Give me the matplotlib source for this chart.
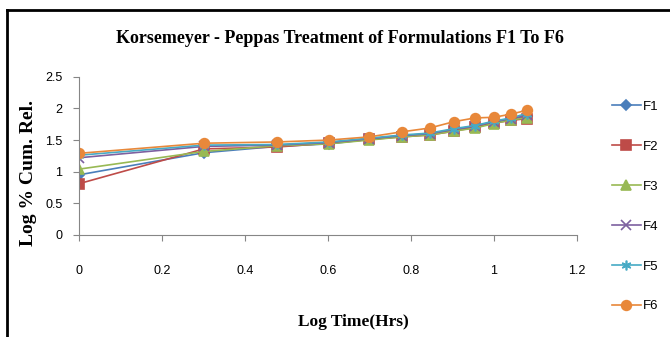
import numpy as np
import matplotlib.pyplot as plt
from matplotlib.lines import Line2D

# log time (hrs) and log % cumulative release
log_time = [0, 0.301, 0.477, 0.602, 0.699, 0.778, 0.845, 0.903, 0.954, 1.0, 1.041, 1.079]
F1 = [0.95, 1.30, 1.40, 1.44, 1.51, 1.56, 1.59, 1.66, 1.71, 1.78, 1.83, 1.88]
F2 = [0.81, 1.36, 1.39, 1.45, 1.51, 1.55, 1.58, 1.64, 1.70, 1.77, 1.81, 1.84]
F3 = [1.04, 1.32, 1.41, 1.44, 1.50, 1.55, 1.58, 1.64, 1.69, 1.76, 1.82, 1.85]
F4 = [1.22, 1.40, 1.42, 1.46, 1.52, 1.57, 1.60, 1.67, 1.72, 1.79, 1.84, 1.89]
F5 = [1.26, 1.42, 1.43, 1.47, 1.53, 1.58, 1.61, 1.68, 1.73, 1.80, 1.85, 1.92]
F6 = [1.29, 1.45, 1.47, 1.50, 1.55, 1.63, 1.69, 1.79, 1.85, 1.86, 1.91, 1.97]

series = [F1, F2, F3, F4, F5, F6]
names = ["F1", "F2", "F3", "F4", "F5", "F6"]
colors = ["#4A7EBB", "#BE4B48", "#98B954", "#7D60A0", "#46AAC5", "#E8883A"]
markers = ["D", "s", "^", "x", (6, 2, 0), "o"]
msizes = [5, 7, 7, 7, 7, 7]

tick_font = ['Liberation Sans Narrow', 'Liberation Sans', 'DejaVu Sans']
serif = ['Liberation Serif', 'DejaVu Serif']

fig = plt.figure(figsize=(6.7, 3.37), dpi=100)
ax = fig.add_axes([0.118, 0.303, 0.743, 0.469])

for y, name, c, m, ms in zip(series, names, colors, markers, msizes):
    ax.plot(log_time, y, color=c, marker=m, markersize=ms, lw=1.2,
            markeredgewidth=1.2, label=name)

ax.set_xlim(0, 1.2)
ax.set_ylim(0, 2.5)
ax.set_xticks(np.arange(0, 1.21, 0.2))
ax.set_xticklabels(["0", "0.2", "0.4", "0.6", "0.8", "1", "1.2"])
ax.set_yticks(np.arange(0, 2.51, 0.5))
ax.set_yticklabels(["0", "0.5", "1", "1.5", "2", "2.5"])

for s in ["top", "right"]:
    ax.spines[s].set_visible(False)
for s in ["left", "bottom"]:
    ax.spines[s].set_color("#868686")
ax.tick_params(direction="out", color="#868686", length=4, labelsize=9)
for lab in ax.get_xticklabels() + ax.get_yticklabels():
    lab.set_family(tick_font)
ax.tick_params(axis="x", pad=18)
ax.tick_params(axis="y", pad=8)

fig.text(0.507, 0.885, "Korsemeyer - Peppas Treatment of Formulations F1 To F6",
         ha="center", va="center", fontsize=13, fontweight="bold", family=serif)
fig.text(0.527, 0.045, "Log Time(Hrs)", ha="center", va="center",
         fontsize=12.5, fontweight="bold", family=serif)
fig.text(0.042, 0.487, "Log % Cum. Rel.", ha="center", va="center", rotation=90,
         fontsize=14, fontweight="bold", family=serif)

# legend, one entry per 40 px
handles = [Line2D([], [], color=c, marker=m, markersize=ms, lw=1.2, markeredgewidth=1.2)
           for c, m, ms in zip(colors, markers, msizes)]
leg = fig.legend(handles, names, loc="upper left", bbox_to_anchor=(0.895, 0.737),
                 frameon=False, labelspacing=2.1, handlelength=2.2, handletextpad=0.2,
                 prop={'family': tick_font, 'size': 9.5})

# frame lines of the chart area (left and top only)
fig.add_artist(Line2D([0.011, 0.011], [0, 0.97], color="black", lw=2,
                      transform=fig.transFigure))
fig.add_artist(Line2D([0.011, 1.0], [0.97, 0.97], color="black", lw=2,
                      transform=fig.transFigure))

fig.savefig("out.png", dpi=100)
